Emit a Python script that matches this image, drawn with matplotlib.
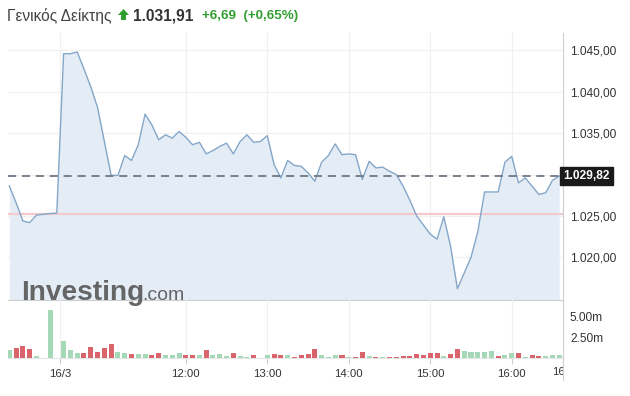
import matplotlib
matplotlib.use("Agg")
import matplotlib.pyplot as plt
from matplotlib.patches import Polygon
from matplotlib.transforms import Bbox
import numpy as np

plt.rcParams['font.family'] = ['Liberation Sans', 'DejaVu Sans']

# ---------------- data ----------------
prices = [1028.64, 1026.6, 1024.4, 1024.2, 1025.1, 1025.2, 1025.3, 1025.35,
          1044.6, 1044.6, 1044.8, 1042.75, 1040.6, 1038.1, 1034.0, 1029.9,
          1029.9, 1032.3, 1031.7, 1033.6, 1037.3, 1036.0, 1034.2, 1034.8,
          1034.4, 1035.2, 1034.5, 1033.6, 1033.9, 1032.5, 1032.9, 1033.4,
          1033.8, 1032.5, 1034.0, 1034.8, 1033.9, 1034.0, 1034.7, 1031.2,
          1029.6, 1031.7, 1031.1, 1031.0, 1030.2, 1029.2, 1031.5, 1032.3,
          1033.7, 1032.4, 1032.5, 1032.4, 1029.4, 1031.6, 1030.8, 1030.9,
          1030.4, 1030.0, 1028.6, 1026.9, 1025.0, 1023.9, 1022.8, 1022.2,
          1024.9, 1021.3, 1016.2, 1018.1, 1020.0, 1023.1, 1027.9, 1027.9,
          1027.9, 1031.5, 1032.2, 1029.0, 1029.6, 1028.6, 1027.6, 1027.8,
          1029.3, 1029.82]
volumes_m = [0.92, 1.2, 1.44, 1.12, 0.24, 0.0, 5.8, 0.0,
             2.08, 1.0, 0.6, 0.6, 1.32, 0.72, 1.2, 1.68,
             0.68, 0.6, 0.48, 0.48, 0.48, 0.36, 0.6, 0.36,
             0.36, 0.56, 0.36, 0.36, 0.36, 0.96, 0.32, 0.52,
             0.28, 0.56, 0.28, 0.16, 0.3, 0.05, 0.3, 0.52,
             0.3, 0.3, 0.16, 0.3, 0.52, 1.04, 0.3, 0.16,
             0.4, 0.4, 0.16, 0.16, 0.76, 0.28, 0.16, 0.16,
             0.16, 0.16, 0.28, 0.28, 0.48, 0.4, 0.56, 0.64,
             0.28, 0.52, 1.04, 0.8, 0.68, 0.68, 0.68, 0.88,
             0.28, 0.4, 0.64, 0.56, 0.16, 0.4, 0.28, 0.28,
             0.4, 0.4]
volume_up = [1, 0, 0, 0, 1, 1, 1, 1,
             1, 1, 1, 0, 0, 0, 0, 0,
             1, 1, 0, 1, 1, 0, 0, 1,
             1, 1, 0, 0, 1, 0, 1, 1,
             1, 0, 1, 1, 0, 1, 1, 0,
             0, 1, 0, 0, 0, 0, 1, 1,
             1, 0, 1, 0, 0, 1, 0, 1,
             0, 0, 0, 0, 0, 0, 0, 0,
             1, 0, 0, 1, 1, 1, 1, 1,
             0, 1, 1, 0, 1, 0, 0, 1,
             1, 1]
prev_close = 1025.22
last_price = 1029.82
x_tick_pos = [7.5, 26, 38, 50, 62, 74]
x_tick_labels = ["16/3", "12:00", "13:00", "14:00", "15:00", "16:00"]
y_ticks = [1020, 1025, 1030, 1035, 1040, 1045]
y_tick_labels = ["1.020,00", "1.025,00", "", "1.035,00", "1.040,00", "1.045,00"]
vol_ticks = [2.5, 5.0]
vol_tick_labels = ["2.50m", "5.00m"]
title_name = "Γενικός Δείκτης"
title_value = "1.031,91"
title_change = "+6,69  (+0,65%)"
last_label = "1.029,82"

# ---------------- figure ----------------
W, H = 630, 396
fig = plt.figure(figsize=(W / 100, H / 100), dpi=100)
fig.patch.set_facecolor("white")

def fx(px):
    return px / W

def fy(py):
    return 1 - py / H

L, R = 8, 563
ax = fig.add_axes([fx(L), fy(300), fx(R - L), (300 - 33) / H])
axv = fig.add_axes([fx(L), fy(358), fx(R - L), 58 / H])

x = np.arange(len(prices))
xlim = (-0.19, 81.55)

line_col = "#84a6c8"
fill_col = "#e4edf6"
grid_col = "#f0f0f0"
axis_col = "#cfcfcf"
text_col = "#333333"

# main price panel
ax.set_xlim(*xlim)
ax.set_ylim(1014.85, 1047.1)
ax.fill_between(x, prices, 1000, color=fill_col, lw=0, zorder=1)
ax.plot(x, prices, color=line_col, lw=1.0, zorder=3)
ax.axhline(prev_close, color="#f3c9cc", lw=1.6, zorder=2)
ax.axhline(last_price, color="#6e7884", lw=1.3, ls=(0, (4.5, 3.2)), zorder=4)

ax.set_yticks(y_ticks)
ax.set_yticklabels(y_tick_labels)
ax.yaxis.tick_right()
ax.tick_params(axis="y", length=0, pad=5, labelsize=8.6, labelcolor=text_col)
ax.set_xticks(x_tick_pos)
ax.tick_params(axis="x", length=0, labelbottom=False)
ax.grid(True, color=grid_col, lw=0.9, zorder=0)
ax.set_axisbelow(True)
for s in ["top", "left"]:
    ax.spines[s].set_visible(False)
ax.spines["bottom"].set_color(axis_col)
ax.spines["right"].set_color(axis_col)
ax.patch.set_alpha(0)

ax.text(1.0, last_price, last_label, transform=ax.get_yaxis_transform(),
        ha="left", va="center", color="white", fontsize=8.6, fontweight="bold",
        bbox=dict(boxstyle="square,pad=0.28", fc="#1a1a1a", ec="#1a1a1a"),
        zorder=10, clip_on=False)

# volume panel
axv.set_xlim(*xlim)
axv.set_ylim(0, 58 / 8.35)
cols = ["#a5d8b7" if u else "#d9646b" for u in volume_up]
axv.bar(x, volumes_m, width=0.74, color=cols, lw=0, zorder=3)
axv.set_yticks(vol_ticks)
axv.set_yticklabels(vol_tick_labels)
axv.yaxis.tick_right()
axv.tick_params(axis="y", length=0, pad=5, labelsize=8.6, labelcolor=text_col)
axv.set_xticks(x_tick_pos)
axv.set_xticklabels(x_tick_labels)
axv.tick_params(axis="x", length=4, width=0.8, color=axis_col, pad=4,
                labelsize=8.2, labelcolor=text_col)
axv.grid(True, axis="x", color=grid_col, lw=0.9, zorder=0)
axv.set_axisbelow(True)
for s in ["top", "left"]:
    axv.spines[s].set_visible(False)
axv.spines["bottom"].set_color("#e6e6e6")
axv.spines["right"].set_color(axis_col)
axv.spines["right"].set_bounds(0, 58 / 8.35)
axv.patch.set_alpha(0)

# right axis line extension below volume panel
fig.add_artist(plt.Line2D([fx(R), fx(R)], [fy(358), fy(380)], color=axis_col,
                          lw=0.8, transform=fig.transFigure))

# clipped last time label
t = fig.text(fx(552), fy(372), "16:30", ha="left", va="center", fontsize=8.2,
             color=text_col)
t.set_clip_box(Bbox([[0, 0], [R, H]]))
t.set_clip_on(True)

# title
fig.text(fx(7), fy(16), title_name, ha="left", va="center", fontsize=11.2,
         color="#444444")
arrow = Polygon([[fx(118), fy(15)], [fx(123.5), fy(9)], [fx(129), fy(15)],
                 [fx(126), fy(15)], [fx(126), fy(20)], [fx(121), fy(20)],
                 [fx(121), fy(15)]], closed=True, transform=fig.transFigure,
                facecolor="#2f9e2f", edgecolor="none")
fig.add_artist(arrow)
fig.text(fx(133), fy(16), title_value, ha="left", va="center", fontsize=11.2,
         fontweight="bold", color="#333333")
fig.text(fx(202), fy(16), title_change, ha="left", va="center", fontsize=9.6,
         fontweight="bold", color="#2f9e2f")

# watermark
fig.text(fx(21), fy(300), "Investing", ha="left", va="baseline", fontsize=20.2,
         fontweight="bold", color="#5e5e5e", alpha=0.95)
fig.text(fx(142), fy(300), ".com", ha="left", va="baseline", fontsize=14,
         color="#5e5e5e", alpha=0.95)

fig.savefig("out.png", dpi=100, facecolor="white")
